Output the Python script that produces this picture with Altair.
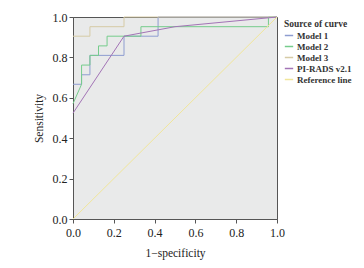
import altair as alt
import pandas as pd

series_names = ["Model 1", "Model 2", "Model 3", "PI-RADS v2.1", "Reference line"]
colors = ["#8e9dd0", "#76cc8c", "#d6cba6", "#a374b6", "#f1e69a"]

m1_x = [0, 0.042, 0.042, 0.083, 0.083, 0.25, 0.25, 0.417, 0.417, 1.0]
m1_y = [0.667, 0.667, 0.714, 0.714, 0.810, 0.810, 0.905, 0.905, 1.0, 1.0]

m2_x = [0, 0.042, 0.042, 0.083, 0.083, 0.125, 0.125, 0.167, 0.167, 0.333, 0.333, 0.958, 0.958, 1.0]
m2_y = [0.571, 0.667, 0.762, 0.762, 0.810, 0.810, 0.857, 0.857, 0.905, 0.905, 0.952, 0.952, 1.0, 1.0]

m3_x = [0, 0.083, 0.083, 0.25, 0.25, 1.0]
m3_y = [0.905, 0.905, 0.952, 0.952, 1.0, 1.0]

pr_x = [0, 0.25, 0.5, 1.0]
pr_y = [0.524, 0.905, 0.952, 1.0]

ref_x = [0, 1.0]
ref_y = [0, 1.0]

rows = []
for name, xs, ys in zip(series_names, [m1_x, m2_x, m3_x, pr_x, ref_x], [m1_y, m2_y, m3_y, pr_y, ref_y]):
    for i, (a, b) in enumerate(zip(xs, ys)):
        rows.append({"series": name, "x": a, "y": b, "order": i})
df = pd.DataFrame(rows)

font = "Liberation Serif"

chart = alt.Chart(df).mark_line(strokeWidth=1, clip=False).encode(
    x=alt.X("x:Q", scale=alt.Scale(domain=[0, 1], nice=False),
            axis=alt.Axis(title="1\u2212specificity", values=[0, 0.2, 0.4, 0.6, 0.8, 1.0], format=".1f",
                          grid=False, tickSize=4, labelPadding=4, titlePadding=9, labelFlush=False)),
    y=alt.Y("y:Q", scale=alt.Scale(domain=[0, 1], nice=False),
            axis=alt.Axis(title="Sensitivity", values=[0, 0.2, 0.4, 0.6, 0.8, 1.0], format=".1f",
                          grid=False, tickSize=4, labelPadding=2, titlePadding=8, labelFlush=False)),
    color=alt.Color("series:N", scale=alt.Scale(domain=series_names, range=colors),
                    legend=alt.Legend(title="Source of curve", orient="none", legendX=211, legendY=2,
                                      symbolType="stroke", symbolSize=70, symbolStrokeWidth=1.5,
                                      labelFont=font, titleFont=font, labelFontSize=9, titleFontSize=9.5,
                                      titleFontWeight="bold", labelFontWeight="bold", labelColor="#333",
                                      titleColor="#333", rowPadding=1, labelOffset=3, titlePadding=2,
                                      labelLimit=200)),
    order="order:Q",
).properties(
    width=204, height=202,
    autosize=alt.AutoSizeParams(type="none"),
    padding={"left": 65, "top": 9, "right": 79, "bottom": 41},
).configure_view(
    fill="#e9eaea", stroke="#555555", strokeWidth=1
).configure_axis(
    labelFont=font, titleFont=font, labelFontSize=12, titleFontSize=11.5,
    titleFontWeight="normal", labelColor="#222", titleColor="#222",
    domainColor="#555", tickColor="#555"
)

chart.save("out.html", embed_options={"renderer": "svg", "actions": False})
